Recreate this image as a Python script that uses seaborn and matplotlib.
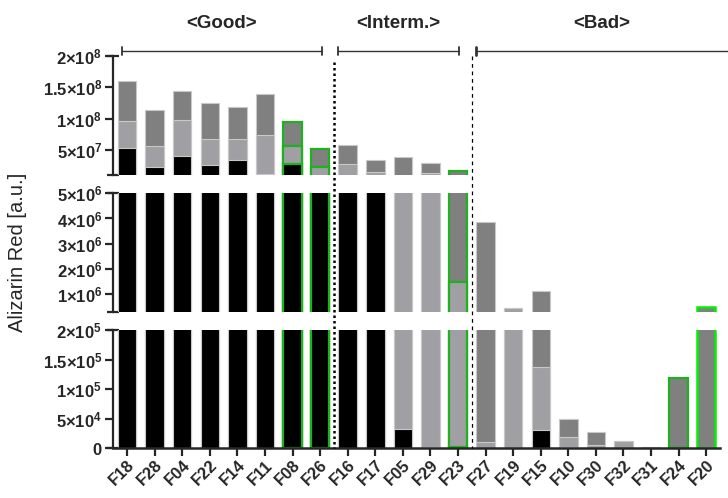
import matplotlib
matplotlib.use("Agg")
import matplotlib.pyplot as plt
import matplotlib.transforms as mtransforms
from matplotlib.lines import Line2D
import numpy as np
import seaborn as sns

# ---------------- data ----------------
good = ["F18", "F28", "F04", "F22", "F14", "F11", "F08", "F26"]
interm = ["F16", "F17", "F05", "F29", "F23"]
bad = ["F27", "F19", "F15", "F10", "F30", "F32", "F31", "F24", "F20"]
samples = good + interm + bad

# stacked segment heights (bottom: black, middle: light gray, top: dark gray)
black_seg = [5.36e7, 2.28e7, 4.09e7, 2.65e7, 3.40e7, 1.28e7, 2.76e7, 7.0e6,
             8.0e6, 8.0e6, 3.2e4, 2.2e3, 1.5e3,
             0, 0, 3.05e4, 2.2e3, 0, 0, 0, 0, 0]
light_seg = [4.21e7, 3.46e7, 5.69e7, 4.10e7, 3.35e7, 6.11e7, 2.98e7, 1.58e7,
             2.07e7, 6.8e6, 8.0e6, 1.37e7, 1.49e6,
             1.07e4, 4.3e5, 1.06e5, 1.58e4, 4.5e3, 1.13e4, 0, 0, 0]
dark_seg = [6.39e7, 5.59e7, 4.63e7, 5.70e7, 5.11e7, 6.49e7, 3.73e7, 2.88e7,
            3.03e7, 1.92e7, 3.13e7, 1.55e7, 1.49e7,
            3.86e6, 0, 9.83e5, 3.10e4, 2.25e4, 0, 1.7e3, 1.19e5, 5.0e5]

highlighted = ["F08", "F26", "F23", "F24"]
highlighted_bright = ["F20"]

group_names = ["<Good>", "<Interm.>", "<Bad>"]
groups = [good, interm, bad]

top_ticks = [5e7, 1e8, 1.5e8, 2e8]
top_labels = [r"$\mathbf{5×10^{7}}$", r"$\mathbf{1×10^{8}}$",
              r"$\mathbf{1.5×10^{8}}$", r"$\mathbf{2×10^{8}}$"]
mid_ticks = [1e6, 2e6, 3e6, 4e6, 5e6]
mid_labels = [r"$\mathbf{1×10^{6}}$", r"$\mathbf{2×10^{6}}$", r"$\mathbf{3×10^{6}}$",
              r"$\mathbf{4×10^{6}}$", r"$\mathbf{5×10^{6}}$"]
bot_ticks = [0, 5e4, 1e5, 1.5e5, 2e5]
bot_labels = [r"$\mathbf{0}$", r"$\mathbf{5×10^{4}}$", r"$\mathbf{1×10^{5}}$",
              r"$\mathbf{1.5×10^{5}}$", r"$\mathbf{2×10^{5}}$"]

# ---------------- style ----------------
sns.set_style("ticks")
plt.rcParams["font.family"] = ["Liberation Sans", "DejaVu Sans"]
plt.rcParams["mathtext.fontset"] = "custom"
plt.rcParams["mathtext.rm"] = "Liberation Sans"
plt.rcParams["mathtext.bf"] = "Liberation Sans:bold"
plt.rcParams["mathtext.it"] = "Liberation Sans:italic"

BLACK = "#000000"
LIGHT = "#a0a0a4"
DARK = "#808080"
EDGE = "#c8c8c8"
GREEN = "#1fb21f"
LIME = "#00f000"

black_arr = np.array(black_seg)
light_cum = black_arr + np.array(light_seg)
total = light_cum + np.array(dark_seg)

edgecolors, lws = [], []
for s in samples:
    if s in highlighted:
        edgecolors.append(GREEN); lws.append(1.6)
    elif s in highlighted_bright:
        edgecolors.append(LIME); lws.append(1.8)
    else:
        edgecolors.append(EDGE); lws.append(0.8)

fig = plt.figure(figsize=(7.28, 4.98), dpi=100)
W_PX, H_PX = 728.0, 498.0
L = 113.3 / W_PX
W = (720 - 113.3) / W_PX
ax_top = fig.add_axes([L, 1 - 175.3 / H_PX, W, 119.3 / H_PX])
ax_mid = fig.add_axes([L, 1 - 311.7 / H_PX, W, 118.4 / H_PX])
ax_bot = fig.add_axes([L, 1 - 448.0 / H_PX, W, 118.0 / H_PX])

segments = [
    (ax_top, (1e7, 2e8), top_ticks, top_labels),
    (ax_mid, (3e5, 5e6), mid_ticks, mid_labels),
    (ax_bot, (0, 2e5), bot_ticks, bot_labels),
]

for ax, ylim, ticks, labels in segments:
    for vals, col in [(total, DARK), (light_cum, LIGHT), (black_arr, BLACK)]:
        n0 = len(ax.patches)
        sns.barplot(x=samples, y=vals, order=samples, color=col, width=0.67,
                    errorbar=None, saturation=1, ax=ax, edgecolor=EDGE, linewidth=0.8)
        for p, ec, lw in zip(ax.patches[n0:], edgecolors, lws):
            p.set_edgecolor(ec)
            p.set_linewidth(lw)
    ax.set_xlim(-0.5, len(samples) - 0.5)
    ax.set_ylim(*ylim)
    ax.set_yticks(ticks)
    ax.set_yticklabels(labels, fontsize=12)
    ax.yaxis.remove_overlapping_locs = False
    ax.set_yticks(list(ylim), minor=True)
    ax.tick_params(axis="y", which="major", direction="out", length=6, width=1.6, pad=2)
    ax.tick_params(axis="y", which="minor", direction="inout", length=9, width=1.6)
    ax.set_xlabel("")
    ax.set_ylabel("")
    for sp in ["top", "right"]:
        ax.spines[sp].set_visible(False)
    ax.spines["left"].set_linewidth(1.6)
    if ax is not ax_bot:
        ax.spines["bottom"].set_visible(False)
        ax.tick_params(axis="x", which="both", bottom=False, labelbottom=False)

ax_bot.spines["bottom"].set_linewidth(1.8)
ax_bot.tick_params(axis="x", direction="out", length=6, width=1.6, pad=1)
ax_bot.set_xticks(range(len(samples)))
ax_bot.set_xticklabels(samples, rotation=45, ha="right", rotation_mode="anchor",
                       fontsize=12, fontweight="bold")

# y label
fig.text(18 / W_PX, 1 - 252 / H_PX, "Alizarin Red [a.u.]", rotation=90,
         ha="center", va="center", fontsize=14.5)

# group separators and brackets
tr = mtransforms.blended_transform_factory(ax_bot.transData, fig.transFigure)
y_bot = 1 - 448 / H_PX
start = 0
seps = []
for gi, g in enumerate(groups):
    first, last = start, start + len(g) - 1
    if gi < len(groups) - 1:
        seps.append(last + 0.5)
    x0 = first - 0.2 if gi == 0 else first - 0.35
    x1 = last + 0.8 if gi == len(groups) - 1 else last + 0.05
    yb = 1 - 51 / H_PX
    fig.add_artist(Line2D([x0, x1], [yb, yb], transform=tr, color="#333333", lw=1.0))
    for xe in ([x0, x1] if gi < len(groups) - 1 else [x0]):
        fig.add_artist(Line2D([xe, xe], [yb - 4 / H_PX, yb + 4 / H_PX], transform=tr,
                              color="#333333", lw=1.3 if gi < 2 else 2.0))
    fig.text((x0 + x1) / 2, 1 - 23 / H_PX, group_names[gi], transform=tr,
             ha="center", va="center", fontsize=13.5, fontweight="bold")
    start += len(g)

fig.add_artist(Line2D([seps[0], seps[0]], [1 - 62 / H_PX, y_bot], transform=tr,
                      color="black", lw=1.8, linestyle=(0, (1, 1.2))))
fig.add_artist(Line2D([seps[1], seps[1]], [1 - 56 / H_PX, y_bot], transform=tr,
                      color="black", lw=0.9, linestyle=(0, (3, 3))))

fig.savefig("out.png", dpi=100)
